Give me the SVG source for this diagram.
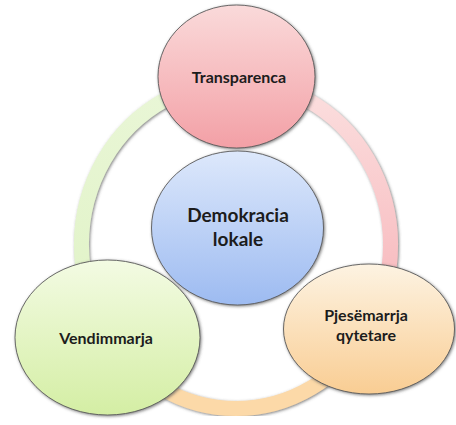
<svg xmlns="http://www.w3.org/2000/svg" width="456" height="425" viewBox="0 0 456 425">
<defs>
<linearGradient id="gPink" x1="0" y1="0" x2="0" y2="1"><stop offset="0" stop-color="#fadada"/><stop offset="1" stop-color="#f3a0a6"/></linearGradient>
<linearGradient id="gBlue" x1="0" y1="0" x2="0" y2="1"><stop offset="0" stop-color="#dde8fb"/><stop offset="1" stop-color="#9dbbf1"/></linearGradient>
<linearGradient id="gGreen" x1="0" y1="0" x2="0" y2="1"><stop offset="0" stop-color="#f3fbe3"/><stop offset="1" stop-color="#d4eea4"/></linearGradient>
<linearGradient id="gOrange" x1="0" y1="0" x2="0" y2="1"><stop offset="0" stop-color="#fdf3e2"/><stop offset="1" stop-color="#f9cd93"/></linearGradient>
<linearGradient id="aPink" gradientUnits="userSpaceOnUse" x1="0" y1="90" x2="0" y2="330"><stop offset="0" stop-color="#fbdede"/><stop offset="1" stop-color="#f7b3b8"/></linearGradient>
<linearGradient id="aGreen" gradientUnits="userSpaceOnUse" x1="0" y1="90" x2="0" y2="330"><stop offset="0" stop-color="#e9f6d6"/><stop offset="1" stop-color="#e0f3c6"/></linearGradient>
<filter id="sh" x="-10%" y="-10%" width="120%" height="120%">
<feGaussianBlur in="SourceAlpha" stdDeviation="1.8"/>
<feOffset dx="0.5" dy="1" result="b"/>
<feFlood flood-color="#555" flood-opacity="0.75"/>
<feComposite in2="b" operator="in"/>
<feMerge><feMergeNode/><feMergeNode in="SourceGraphic"/></feMerge>
</filter>
</defs>
<style>
.node{stroke:#5a5a5a;stroke-width:0.9;filter:url(#sh)}
.arc{fill:none;stroke-width:15;filter:url(#sh)}
text{font-family:Lato,"Liberation Sans",sans-serif;font-weight:bold;fill:#1c1c1c;text-anchor:middle}
</style>
<g id="connectors">
<path class="arc" stroke="#fcd9a8" d="M 109.4 338.8 A 154.5 163.5 0 0 0 362.6 338.8"/>
<path class="arc" stroke="url(#aGreen)" d="M 236 81.5 A 154.5 163.5 0 0 0 109.4 338.8"/>
<path class="arc" stroke="url(#aPink)" d="M 236 81.5 A 154.5 163.5 0 0 1 362.6 338.8"/>
</g>
<g id="transparenca">
<ellipse class="node" cx="236.5" cy="76.5" rx="78.5" ry="71.5" fill="url(#gPink)"/>
<text x="239" y="83" font-size="16">Transparenca</text>
</g>
<g id="demokracia">
<ellipse class="node" cx="237.5" cy="228" rx="86" ry="77" fill="url(#gBlue)"/>
<text x="238" y="222" font-size="19">Demokracia</text>
<text x="238" y="246" font-size="19">lokale</text>
</g>
<g id="vendimmarja">
<ellipse class="node" cx="107.5" cy="337.5" rx="92.5" ry="77.5" fill="url(#gGreen)"/>
<text x="106" y="344" font-size="16">Vendimmarja</text>
</g>
<g id="pjesemarrja">
<ellipse class="node" cx="369" cy="329" rx="85.5" ry="65" fill="url(#gOrange)"/>
<text x="366" y="321" font-size="16">Pjesëmarrja</text>
<text x="366" y="341" font-size="16">qytetare</text>
</g>
</svg>
